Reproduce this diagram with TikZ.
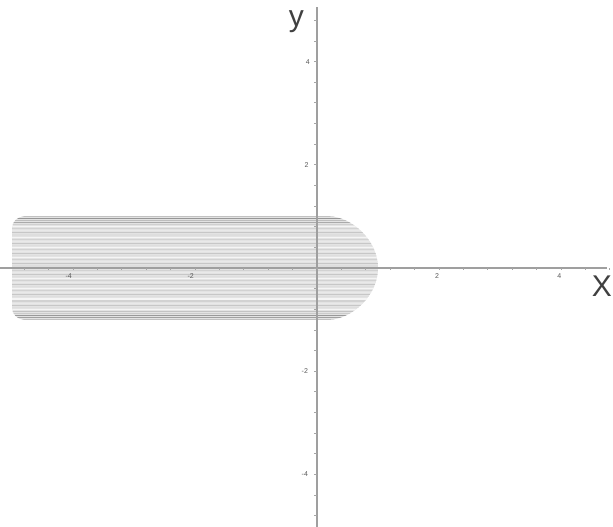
\documentclass[tikz,border=0pt]{standalone}
\usepackage{fontspec}
\setmainfont{Liberation Sans}
\begin{document}
\begin{tikzpicture}[x=61pt,y=51.6pt,
  axis/.style={draw=gray!75, line width=1.2pt},
  ticklab/.style={font=\fontsize{7}{7}\selectfont, text=black!65, inner sep=1pt},
  axlab/.style={font=\fontsize{30}{30}\selectfont, text=black!75, inner sep=0pt}]
\useasboundingbox (-5.197,-5.019) rectangle (4.852,5.194);
% shaded region
\begin{scope}
  \clip[rounded corners=12pt] (0,-1) arc[start angle=-90,end angle=90,radius=1] -- (-5,1) -- (-5,-1) -- cycle;
  \fill[gray!22] (-5.2,-1.1) rectangle (1.1,1.1);
  \foreach \i in {0,...,50}{
    \pgfmathsetmacro\yy{-1+\i*0.04}
    \pgfmathsetmacro\g{int(min(85,8+mod(\i*7,5)*9+60*max(0,abs(\yy)-0.8)/0.2))}
    \draw[gray!\g, line width=1.1pt] (-5.2,\yy) -- (1.1,\yy);
  }
\end{scope}
% axes
\draw[axis] (-5.197,0) -- (4.75,0);
\draw[axis] (0,-5.019) -- (0,5.06);
% minor ticks
\foreach \t in {-12,...,12}{
  \draw[gray!70, line width=0.8pt] (\t*0.4,0) -- (\t*0.4,-0.04);
}
\foreach \t in {-12,...,12}{
  \draw[gray!70, line width=0.8pt] (0,\t*0.4) -- (-0.05,\t*0.4);
}
% tick labels
\node[ticklab] (xm4) at (-4.07,-0.16) {-4};
\node[ticklab] (xm2) at (-2.07,-0.16) {-2};
\node[ticklab] (xp2) at (1.97,-0.16) {2};
\node[ticklab] (xp4) at (3.97,-0.16) {4};
\node[ticklab] (yp4) at (-0.15,4.0) {4};
\node[ticklab] (yp2) at (-0.17,2.0) {2};
\node[ticklab] (ym2) at (-0.2,-2.0) {-2};
\node[ticklab] (ym4) at (-0.2,-4.0) {-4};
% axis labels
\node[axlab] (xl) at (4.67,-0.36) {X};
\node[axlab] (yl) at (-0.34,4.77) {y};
\end{tikzpicture}
\end{document}
